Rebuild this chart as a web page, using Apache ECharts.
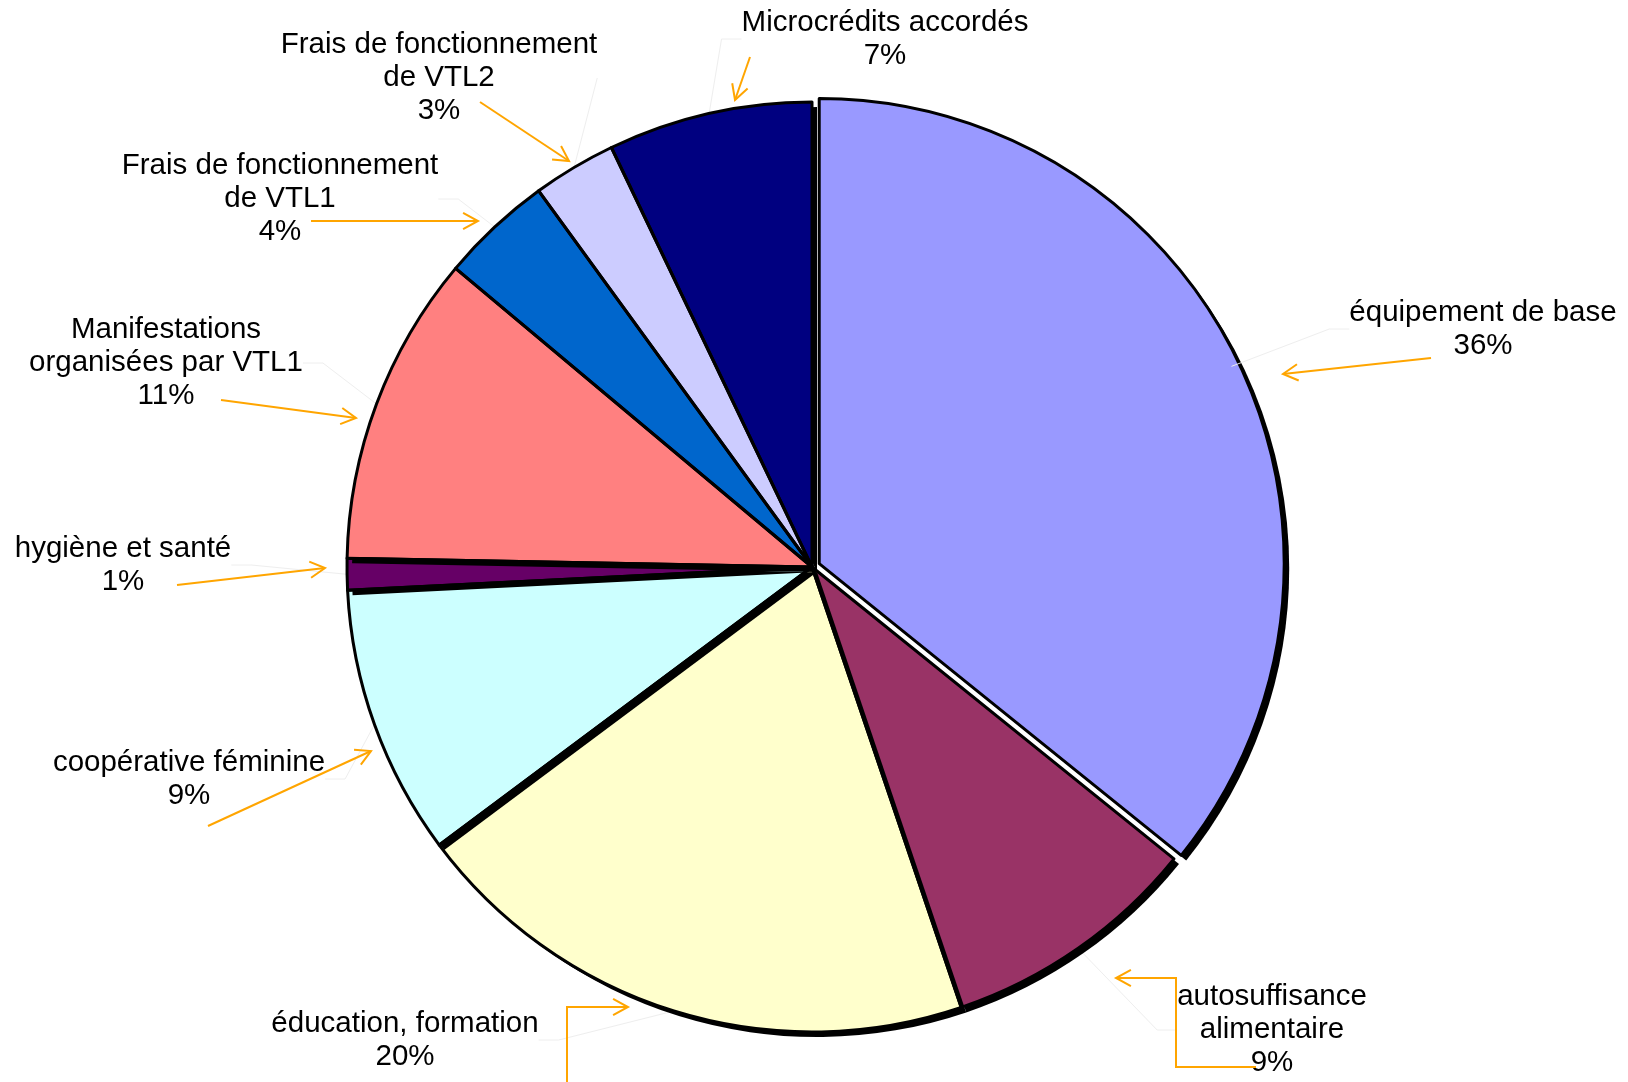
<!DOCTYPE html>
<html>
<head>
<meta charset="utf-8">
<script src="https://cdn.jsdelivr.net/npm/echarts@6/dist/echarts.min.js"></script>
<style>
html,body{margin:0;padding:0;background:#fff;}
#chart{width:1628px;height:1082px;}
</style>
</head>
<body>
<div id="chart"></div>
<script>
const categories = [
  "équipement de base",
  "autosuffisance\nalimentaire",
  "éducation, formation",
  "coopérative féminine",
  "hygiène et santé",
  "Manifestations\norganisées par VTL1",
  "Frais de fonctionnement\nde VTL1",
  "Frais de fonctionnement\nde VTL2",
  "Microcrédits accordés"
];
const values = [35.8, 9.0, 20.0, 9.4, 1.1, 10.8, 3.9, 2.9, 7.1];
const colors = ["#9999FF", "#993366", "#FFFFCC", "#CCFFFF", "#660066", "#FF8080", "#0066CC", "#CCCCFF", "#000080"];
const explodedIndex = 0;

// label centres (annotation layout)
const labelPos = [
  [1483, 329], [1272, 1030], [405, 1040], [189, 779], [123, 565],
  [166, 363], [280, 199], [439, 78], [885, 39]
];

// orange annotation arrows (polylines, arrowhead at last point)
const arrows = [
  [[1431, 358], [1283, 374]],
  [[1256, 1067], [1176, 1067], [1176, 978], [1116, 978]],
  [[567, 1082], [567, 1007], [628, 1007]],
  [[208, 826], [371, 751]],
  [[177, 585], [325, 568]],
  [[221, 400], [356, 418]],
  [[311, 221], [478, 221]],
  [[480, 102], [569, 161]],
  [[750, 57], [735, 100]]
];

const graphics = [];
arrows.forEach(pts => {
  graphics.push({type: 'polyline', shape: {points: pts}, style: {stroke: '#FFA500', lineWidth: 2, fill: null}, z: 100});
  const a = pts[pts.length - 2], b = pts[pts.length - 1];
  const ang = Math.atan2(b[1] - a[1], b[0] - a[0]);
  const L = 17, spread = 0.5;
  const p1 = [b[0] - L * Math.cos(ang - spread), b[1] - L * Math.sin(ang - spread)];
  const p2 = [b[0] - L * Math.cos(ang + spread), b[1] - L * Math.sin(ang + spread)];
  graphics.push({type: 'polyline', shape: {points: [p1, b, p2]}, style: {stroke: '#FFA500', lineWidth: 2, fill: null}, z: 100});
});

const CX = 812, CY = 567, R = 465, EXPLODE = 8;
const total = values.reduce((s, v) => s + v, 0);
let startFrac = 0;
for (let i = 0; i < explodedIndex; i++) startFrac += values[i] / total;
const midFrac = startFrac + values[explodedIndex] / total / 2;
const midAng = midFrac * 2 * Math.PI;
const ex = CX + EXPLODE * Math.sin(midAng), ey = CY - EXPLODE * Math.cos(midAng);

const NONE = 'rgba(0,0,0,0)';
const fillStyle = i => ({color: colors[i], borderWidth: 0, shadowColor: '#000', shadowBlur: 0, shadowOffsetX: 5, shadowOffsetY: 5});
const strokeStyle = () => ({color: NONE, borderColor: '#000', borderWidth: 3, shadowColor: NONE});
const hidden = {color: NONE, borderWidth: 0, shadowColor: NONE};

function pieSeries(center, z, styleFn, visibleFn, withLabels) {
  const s = {
    type: 'pie',
    z: z,
    center: center,
    radius: R,
    startAngle: 90,
    clockwise: true,
    avoidLabelOverlap: false,
    silent: true,
    emphasis: {disabled: true, scale: false},
    label: {show: false},
    labelLine: {show: false},
    data: categories.map((c, i) => ({
      name: c,
      value: values[i],
      itemStyle: visibleFn(i) ? styleFn(i) : hidden
    }))
  };
  if (withLabels) {
    s.label = {
      show: true,
      position: 'outside',
      color: '#000',
      fontFamily: 'Liberation Sans, Arial, sans-serif',
      fontSize: 29.5,
      lineHeight: 33,
      align: 'center',
      formatter: p => p.name + '\n' + Math.round(p.percent) + '%'
    };
    s.labelLine = {show: true, length: 20, length2: 20, lineStyle: {color: '#eeeeee', width: 1}};
    s.labelLayout = function (params) {
      const p = labelPos[params.dataIndex];
      return {x: p[0], y: p[1], align: 'center', verticalAlign: 'middle'};
    };
  }
  return s;
}

const isEx = i => i === explodedIndex;
const notEx = i => i !== explodedIndex;

const chart = echarts.init(document.getElementById('chart'), null, {renderer: 'canvas'});
chart.setOption({
  animation: false,
  backgroundColor: '#ffffff',
  graphic: graphics,
  series: [
    pieSeries([ex, ey], 1, fillStyle, isEx, false),
    pieSeries([ex, ey], 2, strokeStyle, isEx, false),
    pieSeries([CX, CY], 3, fillStyle, notEx, true),
    pieSeries([CX, CY], 4, strokeStyle, notEx, false)
  ]
});
</script>
</body>
</html>
